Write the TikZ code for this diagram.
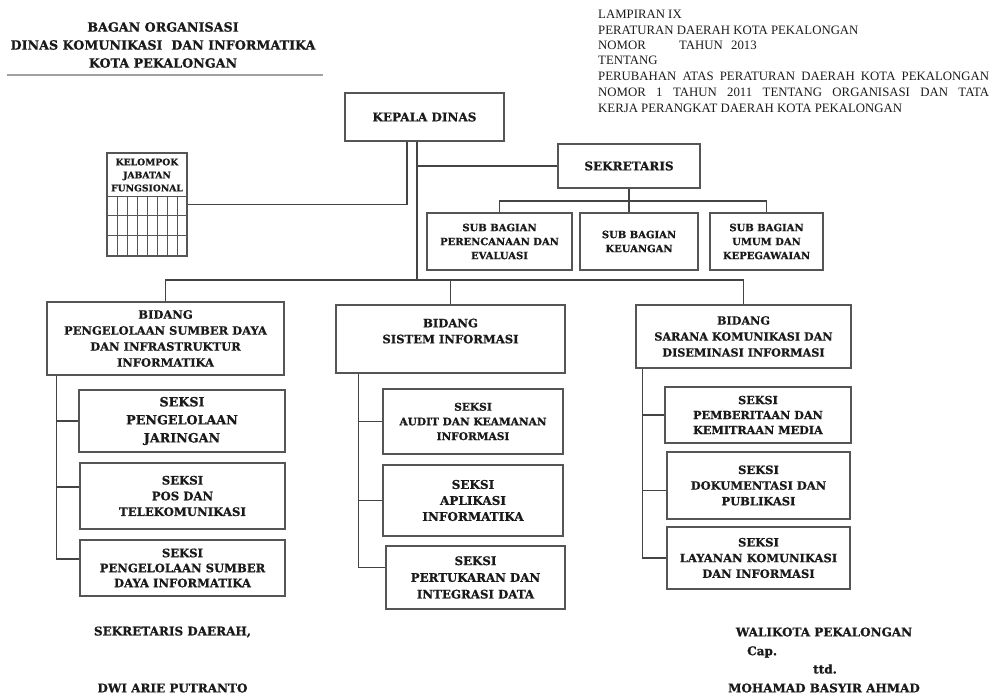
\documentclass[tikz,border=0pt]{standalone}
\usepackage{fontspec}
\setmainfont{DejaVu Serif}[BoldFeatures={FakeBold=0.9}]
\newfontfamily\hdrfont{Liberation Serif}
\usetikzlibrary{calc}
\definecolor{boxline}{HTML}{555555}
\definecolor{conline}{HTML}{444444}
\definecolor{txt}{HTML}{1A1A1A}
\definecolor{rulegray}{HTML}{A0A0A0}
\newcommand{\fsz}[2]{\fontsize{#1}{#2}\selectfont}
\begin{document}
\begin{tikzpicture}[x=1pt,y=-1pt,
  orgbox/.style={draw=boxline, line width=1.3pt, rectangle, inner sep=0pt, align=center, text=txt},
  conn/.style={draw=conline, line width=1.3pt},
  plain/.style={inner sep=0pt, text=txt, align=center},
  hdr/.style={inner sep=0pt, text=txt, anchor=west, font=\hdrfont\fsz{12.8}{15}},
  ttl/.style={inner sep=0pt, text=txt, font=\bfseries\fsz{12.7}{18}, align=center},
  fbig/.style={font=\bfseries\fsz{12}{14}},
  fsub/.style={font=\bfseries\fsz{10}{14}},
  fsek/.style={font=\bfseries\fsz{11.5}{15.7}},
  sig/.style={plain, font=\bfseries\fsz{12}{14}},
  gridline/.style={draw=boxline, line width=1pt}
]
\useasboundingbox (0,0) rectangle (997,698);

% title
\node[ttl] (title) at (163,45) {BAGAN ORGANISASI\\DINAS KOMUNIKASI \ DAN INFORMATIKA\\KOTA PEKALONGAN};
\draw[draw=rulegray, line width=1.2pt] (7,75) -- (323,75);

% header
\node[hdr] (h1) at (598,14) {LAMPIRAN IX};
\node[hdr] (h2) at (598,30) {PERATURAN DAERAH KOTA PEKALONGAN};
\node[hdr] (h3) at (598,45) {\makebox[81pt][l]{NOMOR}\makebox[52pt][l]{TAHUN}2013};
\node[hdr] (h4) at (598,60) {TENTANG};
\node[hdr] (h5) at (598,76) {\makebox[391pt][s]{PERUBAHAN ATAS PERATURAN DAERAH KOTA PEKALONGAN}};
\node[hdr] (h6) at (598,92) {\makebox[391pt][s]{NOMOR 1 TAHUN 2011 TENTANG ORGANISASI DAN TATA}};
\node[hdr] (h7) at (598,108) {KERJA PERANGKAT DAERAH KOTA PEKALONGAN};

% top level
\node[orgbox, fbig, minimum width=159pt, minimum height=48pt] (kd) at (424.5,117) {KEPALA DINAS};
\node[orgbox, fbig, minimum width=142pt, minimum height=44pt] (sek) at (629,166) {SEKRETARIS};

\node[orgbox, fsub, minimum width=145pt, minimum height=57pt] (sb1) at (499.5,241.5) {SUB BAGIAN\\PERENCANAAN DAN\\EVALUASI};
\node[orgbox, fsub, minimum width=118pt, minimum height=57pt] (sb2) at (639,241.5) {SUB BAGIAN\\KEUANGAN};
\node[orgbox, fsub, minimum width=113pt, minimum height=57pt] (sb3) at (766.5,241.5) {SUB BAGIAN\\UMUM DAN\\KEPEGAWAIAN};

% kelompok jabatan fungsional
\node[orgbox, minimum width=80pt, minimum height=103pt] (kjf) at (147,204.5) {};
\node[plain, font=\bfseries\fsz{9.2}{13}] (kjft) at (147,175) {KELOMPOK\\JABATAN\\FUNGSIONAL};
\foreach \yy in {197,216,236} \draw[gridline] (107,\yy) -- (187,\yy);
\foreach \k in {1,...,7} \draw[gridline] (107+10*\k,197) -- (107+10*\k,256);

% bidang
\node[orgbox, font=\bfseries\fsz{11.5}{16}, minimum width=237pt, minimum height=73pt] (bd1) at (165.5,338.5) {BIDANG\\PENGELOLAAN SUMBER DAYA\\DAN INFRASTRUKTUR\\INFORMATIKA};
\node[orgbox, font=\bfseries\fsz{11.6}{16}, minimum width=229pt, minimum height=68pt] (bd2) at (450.5,339) {BIDANG\\SISTEM INFORMASI\\\mbox{}};
\node[orgbox, font=\bfseries\fsz{11.2}{16}, minimum width=215pt, minimum height=63pt] (bd3) at (743.5,336.5) {BIDANG\\SARANA KOMUNIKASI DAN\\DISEMINASI INFORMASI};

% seksi left
\node[orgbox, font=\bfseries\fsz{12.7}{18}, minimum width=206pt, minimum height=62pt] (l1) at (182,421) {SEKSI\\PENGELOLAAN\\JARINGAN};
\node[orgbox, font=\bfseries\fsz{11.7}{15.7}, minimum width=205pt, minimum height=66pt] (l2) at (182.5,496) {SEKSI\\POS DAN\\TELEKOMUNIKASI};
\node[orgbox, font=\bfseries\fsz{11.6}{15}, minimum width=205pt, minimum height=56pt] (l3) at (182.5,568) {SEKSI\\PENGELOLAAN SUMBER\\DAYA INFORMATIKA};

% seksi mid
\node[orgbox, font=\bfseries\fsz{10.6}{14.7}, minimum width=180pt, minimum height=65pt] (m1) at (473,421.5) {SEKSI\\AUDIT DAN KEAMANAN\\INFORMASI};
\node[orgbox, font=\bfseries\fsz{12}{16}, minimum width=180pt, minimum height=71pt] (m2) at (473,500.5) {SEKSI\\APLIKASI\\INFORMATIKA};
\node[orgbox, font=\bfseries\fsz{11.8}{16.7}, minimum width=179pt, minimum height=63pt] (m3) at (475.5,577.5) {SEKSI\\PERTUKARAN DAN\\INTEGRASI DATA};

% seksi right
\node[orgbox, font=\bfseries\fsz{11.2}{15}, minimum width=186pt, minimum height=56pt] (r1) at (758,415) {SEKSI\\PEMBERITAAN DAN\\KEMITRAAN MEDIA};
\node[orgbox, fsek, minimum width=183pt, minimum height=67pt] (r2) at (758.5,485.5) {SEKSI\\DOKUMENTASI DAN\\PUBLIKASI};
\node[orgbox, fsek, minimum width=183pt, minimum height=62pt] (r3) at (758.5,558) {SEKSI\\LAYANAN KOMUNIKASI\\DAN INFORMASI};

% connectors
\coordinate (kt) at ([xshift=-7.5pt]kd.south);
\coordinate (kg) at ([xshift=-17.5pt]kd.south);
\coordinate (bh) at (417,280);
\coordinate (sh) at (0,201);
\draw[conn] (kt) -- (kt |- bh);
\draw[conn] (kt |- sek.west) -- (sek.west);
\draw[conn] (kjf.east) -| (kg);
\draw[conn] (bd1.north) -- (bd1.north |- bh) -- (bd3.north |- bh) -- (bd3.north);
\draw[conn] (bd2.north) -- (bd2.north |- bh);
\draw[conn] (sek.south) -- (sek.south |- sb2.north);
\draw[conn] (sb1.north) -- (sb1.north |- sh) -- (sb3.north |- sh) -- (sb3.north);

\coordinate (spl) at ([xshift=10pt]bd1.south west);
\coordinate (spm) at ([xshift=23pt]bd2.south west);
\coordinate (spr) at ([xshift=7pt]bd3.south west);
\coordinate (l2w) at ([yshift=9pt]l2.west);
\coordinate (l3w) at ([yshift=9pt]l3.west);
\coordinate (m3w) at ([yshift=10pt]m3.west);
\coordinate (r2w) at ([yshift=-5pt]r2.west);
\draw[conn] (spl) |- (l3w);
\draw[conn] (spl |- l1.west) -- (l1.west);
\draw[conn] (spl |- l2w) -- (l2w);
\draw[conn] (spm) |- (m3w);
\draw[conn] (spm |- m1.west) -- (m1.west);
\draw[conn] (spm |- m2.west) -- (m2.west);
\draw[conn] (spr) |- (r3.west);
\draw[conn] (spr |- r1.west) -- (r1.west);
\draw[conn] (spr |- r2w) -- (r2w);

% signatures
\node[sig] (sd) at (172.5,632) {SEKRETARIS DAERAH,};
\node[sig] (sdn) at (172.5,688) {DWI ARIE PUTRANTO};
\node[sig] (wk) at (824,632) {WALIKOTA PEKALONGAN};
\node[sig, anchor=west] (cap) at (747,652) {Cap.};
\node[sig, anchor=west] (ttd) at (813,669) {ttd.};
\node[sig] (wkn) at (824,688) {MOHAMAD BASYIR AHMAD};
\end{tikzpicture}
\end{document}
